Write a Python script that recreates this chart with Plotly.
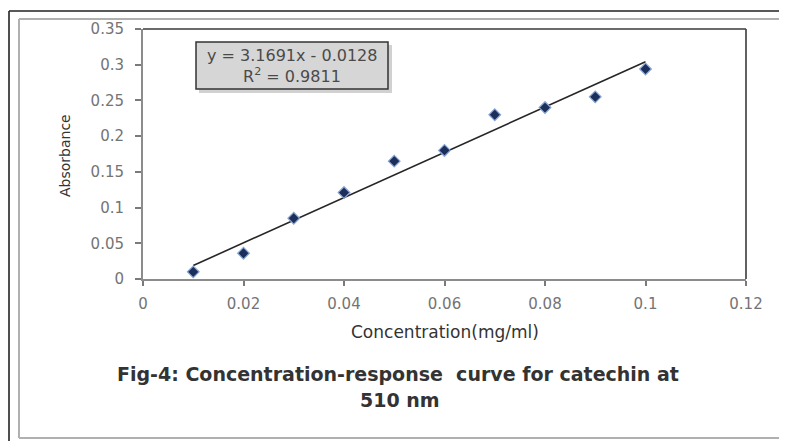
import plotly.graph_objects as go

# ---- data ----
concentration = [0.01, 0.02, 0.03, 0.04, 0.05, 0.06, 0.07, 0.08, 0.09, 0.10]
absorbance = [0.010, 0.036, 0.085, 0.121, 0.165, 0.180, 0.230, 0.240, 0.255, 0.294]
slope = 3.1691
intercept = -0.0128
r_squared = 0.9811
x_ticks = [0, 0.02, 0.04, 0.06, 0.08, 0.10, 0.12]
x_tick_labels = ["0", "0.02", "0.04", "0.06", "0.08", "0.1", "0.12"]
y_ticks = [0, 0.05, 0.10, 0.15, 0.20, 0.25, 0.30, 0.35]
y_tick_labels = ["0", "0.05", "0.1", "0.15", "0.2", "0.25", "0.3", "0.35"]

W, H = 792, 441
L, R, T, B = 143, 746, 29, 279  # plot area in pixels


def px(x):
    return (x - L) / (R - L)


def py(y):
    return (B - y) / (B - T)


trend_x = [concentration[0], concentration[-1]]
trend_y = [slope * v + intercept for v in trend_x]

fig = go.Figure()
fig.add_trace(go.Scatter(
    x=trend_x, y=trend_y, mode="lines",
    line=dict(color="#262626", width=1.6),
    showlegend=False, hoverinfo="skip"))
fig.add_trace(go.Scatter(
    x=concentration, y=absorbance, mode="markers",
    marker=dict(symbol="diamond", size=9, color="#1c2f5a",
                line=dict(color="#8aa6d4", width=1.2)),
    showlegend=False))

font_main = "DejaVu Sans, Liberation Sans, sans-serif"

fig.update_layout(
    width=W, height=H,
    margin=dict(l=L, r=W - R, t=T, b=H - B, autoexpand=False),
    paper_bgcolor="white", plot_bgcolor="white",
    font=dict(family=font_main, color="#555555"),
    xaxis=dict(
        range=[0, 0.12], tickvals=x_ticks, ticktext=x_tick_labels,
        showgrid=False, zeroline=False,
        showline=True, linecolor="#8c8c8c", linewidth=2,
        ticks="outside", ticklen=5, tickcolor="#7a7a7a", tickwidth=1.5,
        ticklabelstandoff=5,
        tickfont=dict(size=15, color="#747474"),
    ),
    yaxis=dict(
        range=[0, 0.35], tickvals=y_ticks, ticktext=y_tick_labels,
        showgrid=False, zeroline=False,
        showline=True, linecolor="#8c8c8c", linewidth=2,
        ticks="outside", ticklen=6, tickcolor="#7a7a7a", tickwidth=1.5,
        ticklabelstandoff=8,
        tickfont=dict(size=15, color="#747474"),
    ),
)

shapes = []
# plot frame top and right (dark)
shapes.append(dict(type="line", xref="paper", yref="paper",
                   x0=0, x1=1, y0=1, y1=1, line=dict(color="#3a3a3a", width=1.6)))
shapes.append(dict(type="line", xref="paper", yref="paper",
                   x0=1, x1=1, y0=0, y1=1, line=dict(color="#3a3a3a", width=1.6)))
# outer black border (left and top)
shapes.append(dict(type="line", xref="paper", yref="paper",
                   x0=px(9), x1=px(779), y0=py(11), y1=py(11),
                   line=dict(color="#222222", width=1.6)))
shapes.append(dict(type="line", xref="paper", yref="paper",
                   x0=px(9), x1=px(9), y0=py(441), y1=py(11),
                   line=dict(color="#222222", width=1.6)))
# inner grey border
shapes.append(dict(type="line", xref="paper", yref="paper",
                   x0=px(19), x1=px(19), y0=py(438), y1=py(19),
                   line=dict(color="#b0b0b0", width=2)))
shapes.append(dict(type="line", xref="paper", yref="paper",
                   x0=px(19), x1=px(779), y0=py(19), y1=py(19),
                   line=dict(color="#b0b0b0", width=2)))
shapes.append(dict(type="line", xref="paper", yref="paper",
                   x0=px(19), x1=px(779), y0=py(438), y1=py(438),
                   line=dict(color="#b0b0b0", width=2)))
# equation box shadow and box
shapes.append(dict(type="rect", xref="paper", yref="paper",
                   x0=px(199), x1=px(392), y0=py(93), y1=py(45),
                   fillcolor="rgba(0,0,0,0.18)", line=dict(width=0)))
shapes.append(dict(type="rect", xref="paper", yref="paper",
                   x0=px(196), x1=px(388), y0=py(89), y1=py(42),
                   fillcolor="#d6d6d6", line=dict(color="#333333", width=1.5)))
fig.update_layout(shapes=shapes)

annotations = [
    dict(xref="paper", yref="paper", x=px(292), y=py(55),
         text=f"y = {slope}x - {abs(intercept)}", showarrow=False,
         font=dict(size=16, color="#4a4a4a", family=font_main),
         xanchor="center", yanchor="middle"),
    dict(xref="paper", yref="paper", x=px(292), y=py(76),
         text=f"R<sup>2</sup> = {r_squared}", showarrow=False,
         font=dict(size=16, color="#4a4a4a", family=font_main),
         xanchor="center", yanchor="middle"),
    dict(xref="paper", yref="paper", x=px(445), y=py(332),
         text="Concentration(mg/ml)", showarrow=False,
         font=dict(size=17, color="#333333", family=font_main),
         xanchor="center", yanchor="middle"),
    dict(xref="paper", yref="paper", x=px(65), y=py(156),
         text="Absorbance", showarrow=False, textangle=-90,
         font=dict(size=14, color="#333333", family=font_main),
         xanchor="center", yanchor="middle"),
    dict(xref="paper", yref="paper", x=px(398), y=py(374),
         text="<b>Fig-4: Concentration-response  curve for catechin at</b>",
         showarrow=False,
         font=dict(size=19, color="#333333", family=font_main),
         xanchor="center", yanchor="middle"),
    dict(xref="paper", yref="paper", x=px(400), y=py(400),
         text="<b>510 nm</b>", showarrow=False,
         font=dict(size=19, color="#333333", family=font_main),
         xanchor="center", yanchor="middle"),
]
fig.update_layout(annotations=annotations)

fig.write_html(
    "out.html",
    config={"displayModeBar": False},
    post_script="document.body.style.margin='0';document.body.style.overflow='hidden';",
)
